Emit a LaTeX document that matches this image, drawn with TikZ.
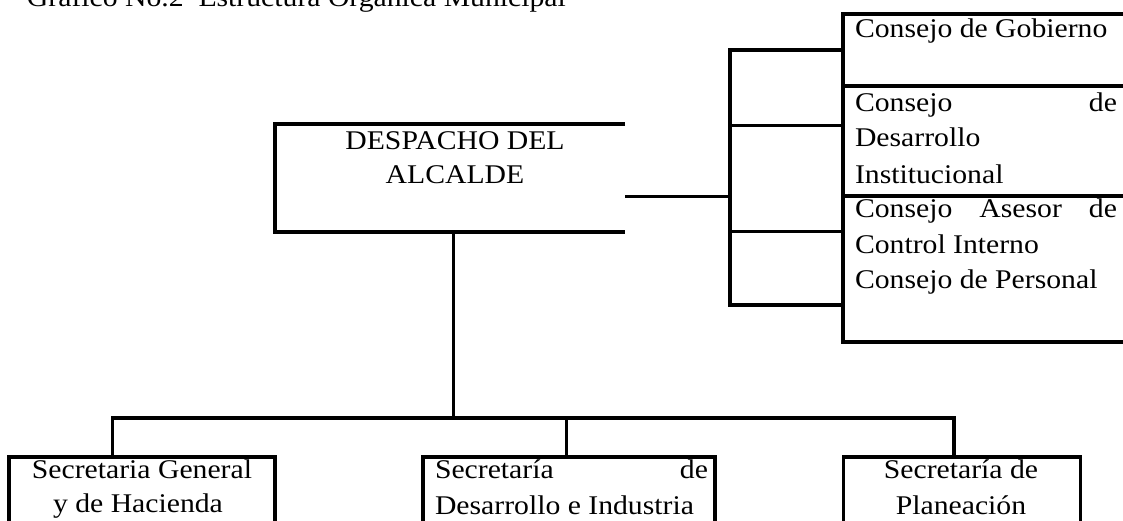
\documentclass[tikz,border=0pt]{standalone}
\usepackage{fontspec}
\setmainfont{Liberation Serif}[FakeStretch=1.1]
\begin{document}
\begin{tikzpicture}[x=1pt,y=-1pt,
  line width=3.5pt,
  font=\fontsize{27}{32}\selectfont,
  txt/.style={inner sep=0pt, outer sep=0pt},
  box/.style={draw, inner sep=0pt, outer sep=0pt, anchor=north west},
  frame/.style={inner sep=0pt, outer sep=0pt, anchor=north west},
  link/.style={line cap=rect}]
\useasboundingbox (0,0) rectangle (1123,520);
\clip (0,0) rectangle (1123,520);

% title (cut off at the top)
\node[txt, anchor=base west] (title) at (27,6) {Gráfico No.2\ \ Estructura Orgánica Municipal};

% main box (no right side)
\node[frame, minimum width=350pt, minimum height=108pt] (despacho) at (275,124) {};
\draw (despacho.north east) -- (despacho.north west) -- (despacho.south west) -- (despacho.south east);
\node[txt, anchor=base] (d1) at (455,149) {DESPACHO DEL};
\node[txt, anchor=base] (d2) at (455,183.3) {ALCALDE};

% consejos
\node[box, minimum width=320pt, minimum height=72pt] (gob) at (843,14) {};
\node[box, minimum width=320pt, minimum height=110pt] (inst) at (843,86) {};
\node[box, minimum width=320pt, minimum height=146pt] (ases) at (843,196) {};
\node[txt, anchor=base west] (c1) at (855,37.7) {Consejo de Gobierno};
\node[txt, anchor=base west] (c2) at (855,111.7) {\hbox to 262pt{Consejo\hfill de}};
\node[txt, anchor=base west] (c3) at (855,146.7) {Desarrollo};
\node[txt, anchor=base west] (c4) at (855,183.3) {Institucional};
\node[txt, anchor=base west] (c5) at (855,217) {\hbox to 262pt{Consejo\hfill Asesor\hfill de}};
\node[txt, anchor=base west] (c6) at (855,253.3) {Control Interno};
\node[txt, anchor=base west] (c7) at (855,288.3) {Consejo de Personal};

% bracket to consejos
\coordinate (b1) at (730,50);
\coordinate (b2) at (730,125.3);
\coordinate (bj) at (730,196.5);
\coordinate (b3) at (730,231.7);
\coordinate (b4) at (730,305);
\draw[link] (b1) -- (b4);
\draw (b1) -- (b1 -| gob.west);
\draw (b2) -- (b2 -| inst.west);
\draw (b3) -- (b3 -| ases.west);
\draw (b4) -- (b4 -| ases.west);
\draw (bj -| despacho.east) -- (bj);

% secretarias
\node[box, minimum width=266pt, minimum height=90pt] (sg) at (9,457) {};
\node[box, minimum width=292pt, minimum height=90pt] (sd) at (423,457) {};
\node[box, minimum width=237pt, minimum height=90pt] (sp) at (843.7,457) {};
\node[txt, anchor=base] (s1) at (142,478) {Secretaria General};
\node[txt, anchor=base] (s2) at (138,512) {y de Hacienda};
\node[txt, anchor=base west] (s3) at (435,478) {\hbox to 273pt{Secretaría\hfill de}};
\node[txt, anchor=base west] (s4) at (435,514) {Desarrollo e Industria};
\node[txt, anchor=base] (s5) at (961,478) {Secretaría de};
\node[txt, anchor=base] (s6) at (961,514) {Planeación};

% tree connectors
\coordinate (t) at (453.5,418);
\coordinate (tl) at (112.5,418);
\coordinate (tm) at (566.5,418);
\coordinate (tr) at (954,418);
\draw (t |- despacho.south) -- (t);
\draw[link] (tl) -- (tr);
\draw (tl) -- (tl |- sg.north);
\draw (tm) -- (tm |- sd.north);
\draw (tr) -- (tr |- sp.north);
\end{tikzpicture}
\end{document}
